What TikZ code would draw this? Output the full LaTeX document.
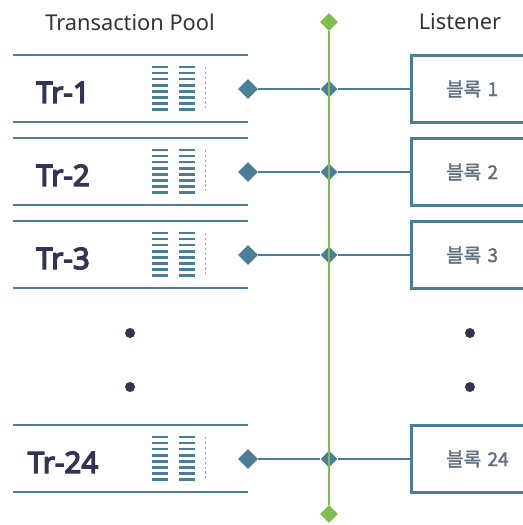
\documentclass[tikz,border=0pt]{standalone}
\usepackage{fontspec}
\setmainfont{Noto Sans}
\newfontfamily\trfont{Noto Sans}[FakeBold=4.5]
\newfontfamily\krfont{Noto Sans CJK KR}[FakeBold=1.8]
\usetikzlibrary{shapes}
\definecolor{lineblue}{HTML}{4C7D97}
\definecolor{trnavy}{HTML}{2F3552}
\definecolor{railgreen}{HTML}{7CBF4E}
\definecolor{blocktext}{HTML}{5E6F7C}
\definecolor{titlegray}{HTML}{333333}

\begin{document}
\begin{tikzpicture}[x=0.025cm,y=-0.025cm,
	title_node/.style={font=\fontsize{15.5}{18}\selectfont, text=titlegray},
	tr_node/.style={font=\trfont\fontsize{21}{24}\selectfont, text=trnavy, anchor=base},
	block_node/.style={draw=lineblue, line width=1.8pt, anchor=west, minimum height=1.675cm, text width=1.7cm, inner xsep=0.875cm, align=left, font=\krfont\fontsize{13.5}{16}\selectfont, text=blocktext},
	end_node/.style={diamond, fill=lineblue, inner sep=0pt, minimum size=0.5cm},
	cross_node/.style={diamond, fill=lineblue, inner sep=0pt, minimum size=0.43cm},
	green_node/.style={diamond, fill=railgreen, inner sep=0pt, minimum size=0.45cm},
	dot_node/.style={circle, fill=trnavy, inner sep=0pt, minimum size=0.25cm},
	pool_line/.style={draw=lineblue, line width=2pt},
	bar_line/.style={draw=lineblue, line width=1.8pt},
	link_line/.style={draw=lineblue, line width=1.8pt},
	green_line/.style={draw=railgreen, line width=2pt}]

	\useasboundingbox (0,0) rectangle (523,525);

	\node[title_node] (pool) at (130,22) {Transaction Pool};
	\node[title_node] (listener) at (460,22) {Listener};

	% pool rows
	\foreach \c in {89,172,255,459} {
		\draw[pool_line] (13,\c-34) -- (248,\c-34) (13,\c+33) -- (248,\c+33);
		\foreach \i in {0,...,7}
			\draw[bar_line] (152,\c-22+6.1*\i) -- (168,\c-22+6.1*\i) (179,\c-22+6.1*\i) -- (195,\c-22+6.1*\i);
		\draw[draw=gray!70, line width=0.6pt, dash pattern=on 1.5pt off 2pt] (205,\c-22) -- (205,\c+21);
	}

	\node[tr_node] (tr1) at (63,103) {Tr-1};
	\node[tr_node] (tr2) at (63,186) {Tr-2};
	\node[tr_node] (tr3) at (63,269) {Tr-3};
	\node[tr_node] (tr24) at (63,473) {Tr-24};

	\node[end_node] (e1) at (248,89) {};
	\node[end_node] (e2) at (248,172) {};
	\node[end_node] (e3) at (248,255) {};
	\node[end_node] (e24) at (248,459) {};

	\node[cross_node] (c1) at (329,89) {};
	\node[cross_node] (c2) at (329,172) {};
	\node[cross_node] (c3) at (329,255) {};
	\node[cross_node] (c24) at (329,459) {};

	\node[block_node] (b1) at (410,89) {블록 1};
	\node[block_node] (b2) at (410,172) {블록 2};
	\node[block_node] (b3) at (410,255) {블록 3};
	\node[block_node] (b24) at (410,459) {블록 24};

	\draw[link_line] (e1) -- (c1) -- (b1);
	\draw[link_line] (e2) -- (c2) -- (b2);
	\draw[link_line] (e3) -- (c3) -- (b3);
	\draw[link_line] (e24) -- (c24) -- (b24);

	% rail
	\node[green_node] (gtop) at (329,22) {};
	\node[green_node] (gbot) at (329,514) {};
	\draw[green_line] (gtop) -- (gbot);

	\node[dot_node] (ld1) at (130,333) {};
	\node[dot_node] (ld2) at (130,387) {};
	\node[dot_node] (rd1) at (470,333) {};
	\node[dot_node] (rd2) at (470,387) {};
\end{tikzpicture}
\end{document}
